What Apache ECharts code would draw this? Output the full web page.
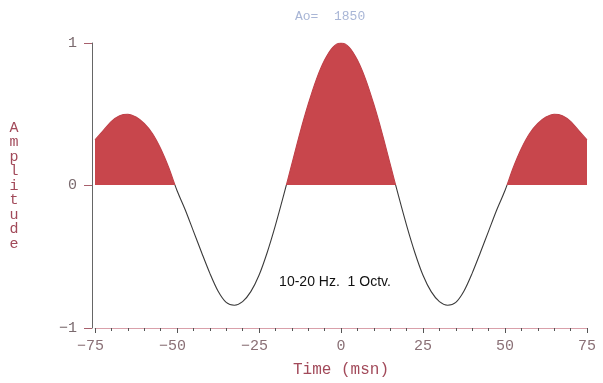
<!DOCTYPE html>
<html>
<head>
<meta charset="utf-8">
<script src="https://cdn.jsdelivr.net/npm/echarts@6/dist/echarts.min.js"></script>
<style>
  html, body { margin: 0; padding: 0; background: #ffffff; }
  #chart { width: 603px; height: 383px; }
</style>
</head>
<body>
<div id="chart"></div>
<script>
// Wavelet samples: time (ms) and normalised amplitude
const times = [
  -75, -72.5, -70, -67.5, -65, -62.5, -60, -57.5, -55, -52.5,
  -50, -47.5, -45, -42.5, -40, -37.5, -35, -32.5, -30, -27.5,
  -25, -22.5, -20, -17.5, -15, -12.5, -10, -7.5, -5, -2.5,
  0,
  2.5, 5, 7.5, 10, 12.5, 15, 17.5, 20, 22.5,
  25, 27.5, 30, 32.5, 35, 37.5, 40, 42.5, 45, 47.5,
  50, 52.5, 55, 57.5, 60, 62.5, 65, 67.5, 70, 72.5, 75
];
const amplitudes = [
  0.32, 0.385, 0.45, 0.49, 0.50, 0.48, 0.435, 0.365, 0.26, 0.125,
  -0.035, -0.17, -0.32, -0.47, -0.615, -0.74, -0.82, -0.84, -0.815, -0.745,
  -0.63, -0.47, -0.28, -0.07, 0.15, 0.37, 0.57, 0.745, 0.88, 0.97,
  1.00,
  0.97, 0.88, 0.745, 0.57, 0.37, 0.15, -0.07, -0.28, -0.47,
  -0.63, -0.745, -0.815, -0.84, -0.82, -0.74, -0.615, -0.47, -0.32, -0.17,
  -0.035, 0.125, 0.26, 0.365, 0.435, 0.48, 0.50, 0.49, 0.45, 0.385, 0.32
];
const yTicks = [-1, 0, 1];
const titleText = 'Ao=  1850';
const noteText = '10-20 Hz.  1 Octv.';
const xName = 'Time (msn)';
const yName = 'Amplitude';

const points = times.map((t, i) => [t, amplitudes[i]]);
const MONO = '"Liberation Mono", "DejaVu Sans Mono", monospace';
const FILL = '#c8464c';
const EDGE = '#bf4048';
const TRACE = '#3a3a3a';
const CLEAR = 'rgba(255,255,255,0)';

const el = document.getElementById('chart');
const chart = echarts.init(el, null, { renderer: 'canvas' });

chart.setOption({
  backgroundColor: '#ffffff',
  animation: false,
  grid: { left: 95, right: 16, top: 43, bottom: 55 },
  xAxis: {
    type: 'value',
    min: -75,
    max: 75,
    interval: 25,
    name: xName,
    nameLocation: 'middle',
    nameGap: 34,
    nameTextStyle: { fontFamily: MONO, fontSize: 16, color: '#a24a5a' },
    axisLine: { onZero: false, lineStyle: { color: '#d9a0aa', width: 1 } },
    axisTick: { show: true, inside: false, length: 5, lineStyle: { color: '#555555' } },
    minorTick: { show: true, splitNumber: 5, length: 3, lineStyle: { color: '#555555' } },
    splitLine: { show: false },
    axisLabel: {
      margin: 11,
      fontFamily: MONO,
      fontSize: 15,
      color: '#8a7076',
      // trailing space keeps the digits centred under the tick
      formatter: v => (v < 0 ? '\u2212' + (-v) + ' ' : String(v))
    }
  },
  yAxis: {
    type: 'value',
    min: yTicks[0],
    max: yTicks[yTicks.length - 1],
    interval: 1,
    offset: 3,
    axisLine: { show: true, onZero: false, lineStyle: { color: '#666666', width: 1 } },
    axisTick: { show: true, inside: false, length: 8, lineStyle: { color: '#a8606c' } },
    splitLine: { show: false },
    axisLabel: {
      margin: 15,
      fontFamily: MONO,
      fontSize: 15,
      color: '#7a6a6e',
      formatter: v => (v < 0 ? '\u2212' + (-v) : String(v))
    }
  },
  series: [
    {
      type: 'line',
      data: points,
      smooth: 0.3,
      showSymbol: false,
      lineStyle: { width: 0 },
      areaStyle: { opacity: 1, origin: 0, color: FILL },
      z: 2
    },
    {
      type: 'line',
      data: points,
      smooth: 0.3,
      showSymbol: false,
      lineStyle: { width: 1.1, color: TRACE },
      z: 3
    }
  ],
  graphic: [
    {
      type: 'text', left: 295, top: 10,
      style: { text: titleText, font: '13px ' + MONO, fill: '#a9b6d6' }
    },
    {
      type: 'text', x: 14, y: 186,
      style: {
        text: yName.split('').join('\n'),
        font: '15px ' + MONO,
        lineHeight: 14.5,
        fill: '#a24a5a',
        align: 'center',
        verticalAlign: 'middle'
      }
    },
    {
      type: 'text', x: 335, y: 282,
      style: {
        text: noteText,
        font: '14px "Liberation Sans Narrow", "Liberation Sans", Arial, sans-serif',
        fill: '#111111',
        align: 'center',
        verticalAlign: 'middle'
      }
    }
  ]
});

// Split colours at the zero line: positive lobes are filled, negative ones only traced.
const H = el.clientHeight;
const zeroY = chart.convertToPixel({ yAxisIndex: 0 }, 0);
const f = zeroY / H;
const split = (above, below) => ({
  type: 'linear', x: 0, y: 0, x2: 0, y2: H, global: true,
  colorStops: [
    { offset: 0, color: above },
    { offset: f, color: above },
    { offset: f, color: below },
    { offset: 1, color: below }
  ]
});
chart.setOption({
  series: [
    { areaStyle: { color: split(FILL, CLEAR) } },
    { lineStyle: { color: split(EDGE, TRACE) } }
  ]
});
</script>
</body>
</html>
